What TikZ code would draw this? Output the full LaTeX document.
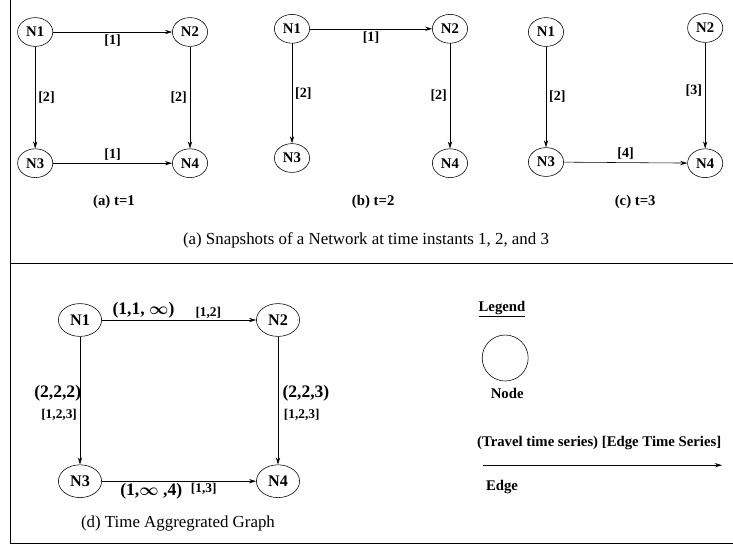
\documentclass[tikz,border=0pt]{standalone}
\usepackage{fontspec}
\setmainfont{Liberation Serif}
\usetikzlibrary{shapes.geometric,arrows.meta}

\begin{document}
\begin{tikzpicture}[
  snode/.style={ellipse, draw=black, minimum width=0.88cm, minimum height=0.72cm, inner sep=0pt, font=\fontsize{10.5}{12}\selectfont\bfseries},
  bnode/.style={ellipse, draw=black, minimum width=1.08cm, minimum height=0.82cm, inner sep=0pt, font=\fontsize{11.5}{13}\selectfont\bfseries},
  link/.style={->, >={Stealth[length=5pt,width=3pt]}},
  lbl/.style={font=\fontsize{10}{12}\selectfont\bfseries, inner sep=2pt},
  tser/.style={font=\fontsize{12.5}{14}\selectfont\bfseries, inner sep=1pt},
  eser/.style={font=\fontsize{9.5}{11}\selectfont\bfseries, inner sep=1pt},
  subcap/.style={font=\fontsize{10.5}{12}\selectfont\bfseries},
  captxt/.style={font=\fontsize{12}{14}\selectfont}
]
\useasboundingbox (0,0) rectangle (18.325,-13.7);
% frame
\draw[line width=0.7pt] (0.25,0) -- (0.25,-13.58) -- (18.325,-13.58);
\draw[line width=0.7pt] (0.25,-6.58) -- (18.325,-6.58);

% (a) t=1
\node[snode] (a1) at (0.88, -0.80) {N1};
\node[snode] (a2) at (4.75, -0.80) {N2};
\node[snode] (a3) at (0.88, -4.08) {N3};
\node[snode] (a4) at (4.75, -4.08) {N4};
\draw[link] (a1) -- node[lbl, below] {[1]} (a2);
\draw[link] (a1) -- node[lbl, right] {[2]} (a3);
\draw[link] (a2) -- node[lbl, left] {[2]} (a4);
\draw[link] (a3) -- node[lbl, above] {[1]} (a4);
\node[subcap] (capa) at (2.85, -5.05) {(a) t=1};

% (b) t=2
\node[snode] (b1) at (7.30, -0.72) {N1};
\node[snode] (b2) at (11.25, -0.72) {N2};
\node[snode] (b3) at (7.30, -3.95) {N3};
\node[snode] (b4) at (11.25, -4.08) {N4};
\draw[link] (b1) -- node[lbl, below] {[1]} (b2);
\draw[link] (b1) -- node[lbl, right] {[2]} (b3);
\draw[link] (b2) -- node[lbl, left] {[2]} (b4);
\node[subcap] (capb) at (9.33, -5.05) {(b) t=2};

% (c) t=3
\node[snode] (c1) at (13.65, -0.80) {N1};
\node[snode] (c2) at (17.63, -0.70) {N2};
\node[snode] (c3) at (13.65, -4.05) {N3};
\node[snode] (c4) at (17.63, -4.08) {N4};
\draw[link] (c1) -- node[lbl, right] {[2]} (c3);
\draw[link] (c2) -- node[lbl, left, pos=0.45] {[3]} (c4);
\draw[link] (c3) -- node[lbl, above] {[4]} (c4);
\node[subcap] (capc) at (15.88, -5.05) {(c) t=3};

\node[captxt] (snap) at (9.15, -6.00) {(a) Snapshots of a Network at time instants 1, 2, and 3};

% (d) aggregated graph
\node[bnode] (d1) at (2.00, -8.00) {N1};
\node[bnode] (d2) at (6.95, -8.00) {N2};
\node[bnode] (d3) at (2.00, -12.03) {N3};
\node[bnode] (d4) at (6.95, -12.03) {N4};
\draw[link] (d1) -- node[tser, above, pos=0.27] {(1,1, {\boldmath$\infty$})}
                    node[eser, above, pos=0.69] {[1,2]} (d2);
\draw[link] (d1) -- node[tser, anchor=east, pos=0.44, xshift=2pt] {(2,2,2)}
                    node[eser, anchor=east, pos=0.61, xshift=-1pt] {[1,2,3]} (d3);
\draw[link] (d2) -- node[tser, anchor=west, pos=0.44, xshift=2pt] {(2,2,3)}
                    node[eser, anchor=west, pos=0.61, xshift=3pt] {[1,2,3]} (d4);
\draw[link] (d3) -- node[tser, below, pos=0.32] {(1,{\boldmath$\infty$} ,4)}
                    node[eser, below, pos=0.66] {[1,3]} (d4);
\node[captxt] (capd) at (4.45, -13.08) {(d) Time Aggregrated Graph};

% legend
\node[subcap] (leg) at (12.55, -7.73) {\underline{Legend}};
\node[circle, draw=black, minimum size=1.15cm] (lnode) at (12.63, -8.95) {};
\node[subcap] (lnodetxt) at (12.68, -9.83) {Node};
\node[subcap] (ledgetxt) at (14.98, -11.08) {(Travel time series) [Edge Time Series]};
\coordinate (ls) at (12.08, -11.63);
\coordinate (le) at (18.05, -11.63);
\draw[link] (ls) -- (le);
\node[subcap] (ledge) at (12.55, -12.18) {Edge};
\end{tikzpicture}
\end{document}
